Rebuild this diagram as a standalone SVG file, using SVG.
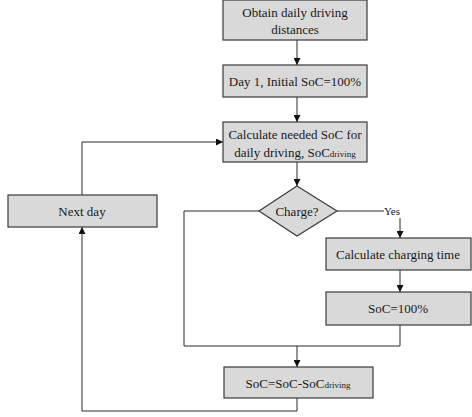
<svg xmlns="http://www.w3.org/2000/svg" width="472" height="417" viewBox="0 0 472 417">
<style>
.box{fill:#d9d9d9;stroke:#3a3a3a;stroke-width:1.2}
.c{fill:none;stroke:#2a2a2a;stroke-width:1}
</style>
<defs>
<marker id="ah" viewBox="0 0 8 8" refX="8" refY="4" markerWidth="7" markerHeight="7" markerUnits="userSpaceOnUse" orient="auto">
<path d="M0,0 L8,4 L0,8 z" fill="#111"/>
</marker>
</defs>
<rect width="472" height="417" fill="#fff"/>
<g id="connectors">
<path class="c" d="M297,40 V65" marker-end="url(#ah)"/>
<path class="c" d="M297,97 V122" marker-end="url(#ah)"/>
<path class="c" d="M297,162 V186" marker-end="url(#ah)"/>
<path class="c" d="M82,195 V142 H223" marker-end="url(#ah)"/>
<path class="c" d="M337,211 H384"/>
<path class="c" d="M400,218 V238" marker-end="url(#ah)"/>
<path class="c" d="M400,270 V292" marker-end="url(#ah)"/>
<path class="c" d="M400,325 V346 H184 V211 H259"/>
<path class="c" d="M297,346 V367" marker-end="url(#ah)"/>
<path class="c" d="M297,398 V411 H82 V227" marker-end="url(#ah)"/>
<text x="384" y="215" font-family="Liberation Serif" font-size="11" fill="#1a1a1a">Yes</text>
</g>
<g id="n1"><rect class="box" x="223" y="0" width="144" height="40"/>
<text x="295" y="16.5" font-family="Liberation Serif" font-size="13" text-anchor="middle" fill="#1a1a1a">Obtain daily driving</text>
<text x="295" y="33.5" font-family="Liberation Serif" font-size="13" text-anchor="middle" fill="#1a1a1a">distances</text></g>
<g id="n2"><rect class="box" x="223" y="65" width="144" height="32"/>
<text x="295" y="85.5" font-family="Liberation Serif" font-size="13" text-anchor="middle" fill="#1a1a1a">Day 1, Initial SoC=100%</text></g>
<g id="n3"><rect class="box" x="223" y="122" width="144" height="40"/>
<text x="295" y="138.5" font-family="Liberation Serif" font-size="13" text-anchor="middle" fill="#1a1a1a">Calculate needed SoC for</text>
<text x="295" y="156.5" font-family="Liberation Serif" font-size="13" text-anchor="middle" fill="#1a1a1a">daily driving, SoC<tspan font-size="9">driving</tspan></text></g>
<g id="n4"><path class="box" d="M297,186 L337,211 L297,236 L259,211 Z"/>
<text x="297" y="215.5" font-family="Liberation Serif" font-size="13" text-anchor="middle" fill="#1a1a1a">Charge?</text></g>
<g id="n5"><rect class="box" x="326" y="238" width="145" height="32"/>
<text x="398" y="258.5" font-family="Liberation Serif" font-size="13" text-anchor="middle" fill="#1a1a1a">Calculate charging time</text></g>
<g id="n6"><rect class="box" x="326" y="292" width="145" height="33"/>
<text x="398" y="312.5" font-family="Liberation Serif" font-size="13" text-anchor="middle" fill="#1a1a1a">SoC=100%</text></g>
<g id="n7"><rect class="box" x="224" y="367" width="149" height="31"/>
<text x="298" y="387.5" font-family="Liberation Serif" font-size="13" text-anchor="middle" fill="#1a1a1a">SoC=SoC-SoC<tspan font-size="9">driving</tspan></text></g>
<g id="n8"><rect class="box" x="8" y="195" width="149" height="32"/>
<text x="82" y="215.5" font-family="Liberation Serif" font-size="13" text-anchor="middle" fill="#1a1a1a">Next day</text></g>
</svg>
